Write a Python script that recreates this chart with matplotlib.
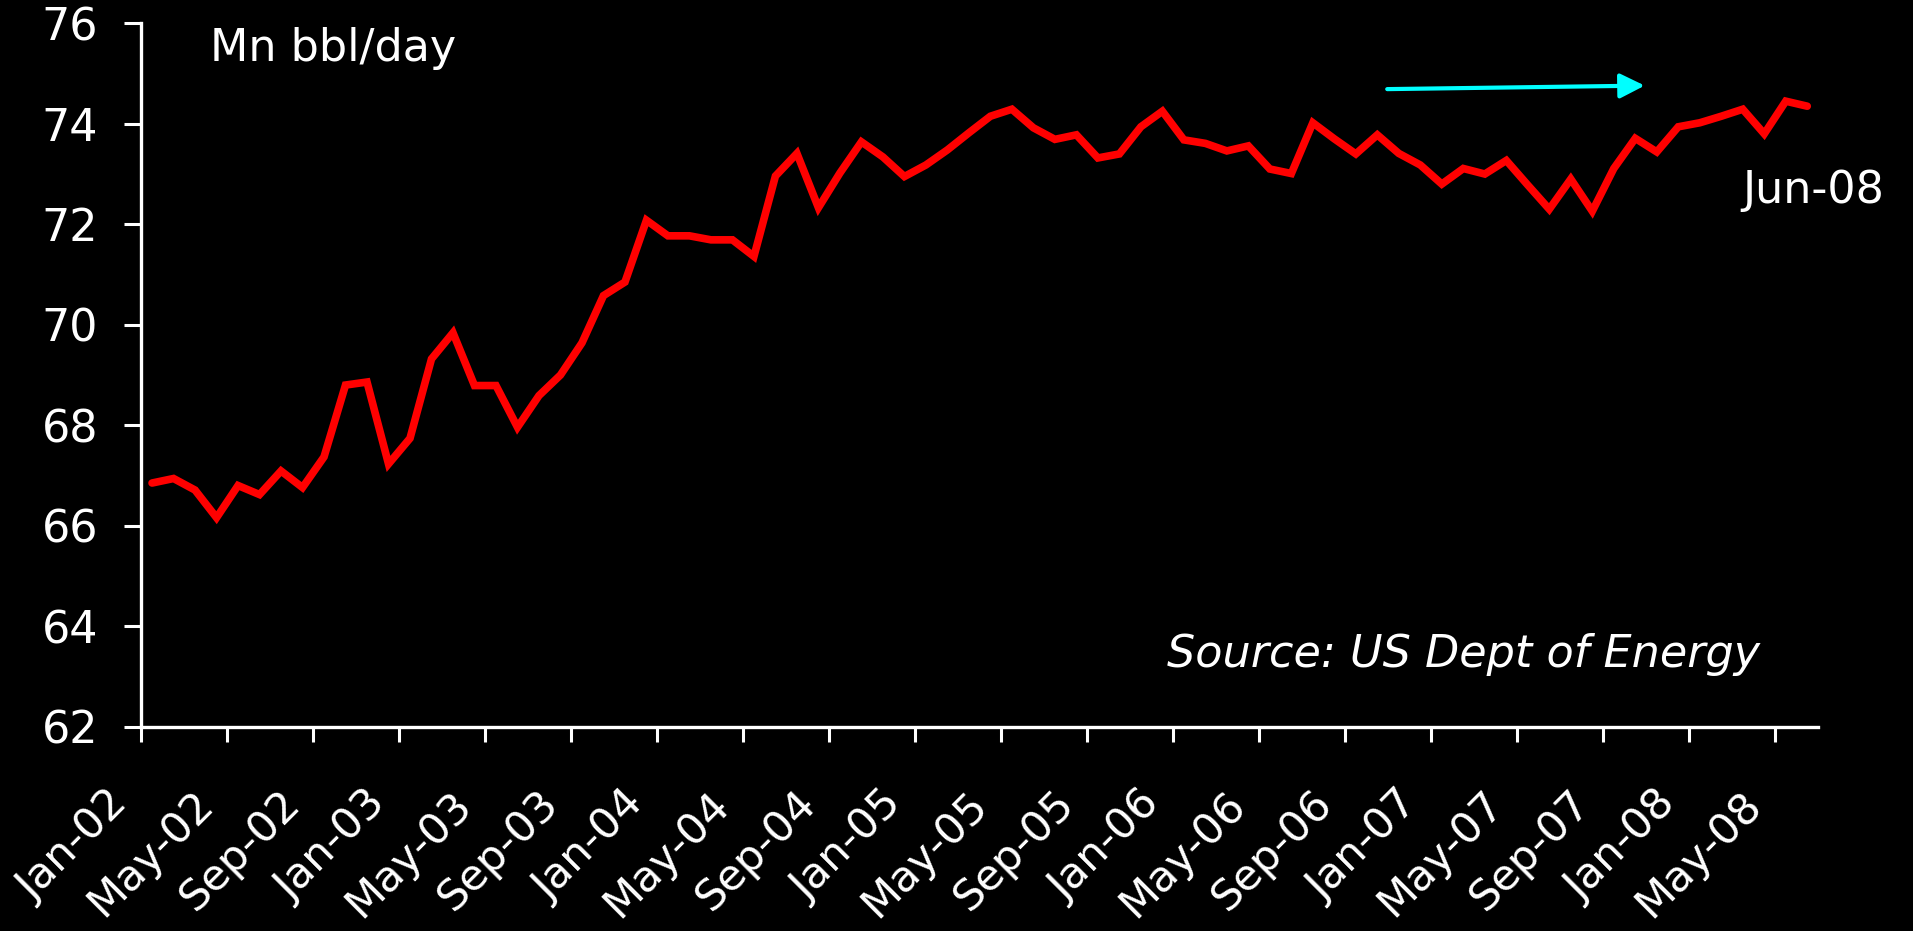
"""World oil production, monthly, Jan-02 to Jun-08."""

from __future__ import annotations

import matplotlib

matplotlib.use("Agg")
import matplotlib.pyplot as plt
from matplotlib.transforms import ScaledTranslation

months = [
    "Jan-02", "Feb-02", "Mar-02", "Apr-02", "May-02", "Jun-02", "Jul-02", "Aug-02", "Sep-02", "Oct-02", "Nov-02", "Dec-02",
    "Jan-03", "Feb-03", "Mar-03", "Apr-03", "May-03", "Jun-03", "Jul-03", "Aug-03", "Sep-03", "Oct-03", "Nov-03", "Dec-03",
    "Jan-04", "Feb-04", "Mar-04", "Apr-04", "May-04", "Jun-04", "Jul-04", "Aug-04", "Sep-04", "Oct-04", "Nov-04", "Dec-04",
    "Jan-05", "Feb-05", "Mar-05", "Apr-05", "May-05", "Jun-05", "Jul-05", "Aug-05", "Sep-05", "Oct-05", "Nov-05", "Dec-05",
    "Jan-06", "Feb-06", "Mar-06", "Apr-06", "May-06", "Jun-06", "Jul-06", "Aug-06", "Sep-06", "Oct-06", "Nov-06", "Dec-06",
    "Jan-07", "Feb-07", "Mar-07", "Apr-07", "May-07", "Jun-07", "Jul-07", "Aug-07", "Sep-07", "Oct-07", "Nov-07", "Dec-07",
    "Jan-08", "Feb-08", "Mar-08", "Apr-08", "May-08", "Jun-08",
]

# Mn bbl/day
production = [
    66.85, 66.94, 66.71, 66.16, 66.80, 66.62, 67.09, 66.76, 67.37, 68.80, 68.86, 67.23,
    67.74, 69.32, 69.84, 68.79, 68.79, 67.96, 68.59, 69.00, 69.64, 70.58, 70.85, 72.08,
    71.77, 71.77, 71.69, 71.69, 71.36, 72.96, 73.41, 72.33, 73.02, 73.64, 73.34, 72.95,
    73.18, 73.48, 73.82, 74.15, 74.29, 73.92, 73.69, 73.78, 73.32, 73.40, 73.94, 74.25,
    73.68, 73.61, 73.46, 73.56, 73.10, 73.01, 74.02, 73.70, 73.40, 73.78, 73.41, 73.18,
    72.80, 73.11, 73.00, 73.27, 72.78, 72.30, 72.90, 72.26, 73.11, 73.71, 73.44, 73.94,
    74.02, 74.15, 74.29, 73.80, 74.45, 74.35,
]

y_ticks = [62, 64, 66, 68, 70, 72, 74, 76]
label_every = 4

# trend arrow (month index, value)
arrow_start = (57.46, 74.69)
arrow_end = (69.44, 74.76)

W, H = 1913, 931


def main() -> None:
    plt.rcParams["font.family"] = ["DejaVu Sans"]
    fig = plt.figure(figsize=(W / 100, H / 100), dpi=100, facecolor="black")
    ax = fig.add_axes([141.3 / W, 1 - 726.7 / H, (1818 - 141.3) / W, (726.7 - 23.3) / H])
    ax.set_facecolor("black")

    x = list(range(len(production)))
    ax.plot(x, production, color="#FF0000", lw=5.5, solid_joinstyle="miter", solid_capstyle="round")

    ax.annotate(
        "",
        xy=arrow_end,
        xytext=arrow_start,
        arrowprops=dict(
            arrowstyle="-|>,head_length=0.6,head_width=0.3",
            mutation_scale=25,
            color="#00FFFF",
            lw=3,
            shrinkA=0,
            shrinkB=0,
            capstyle="round",
        ),
    )

    ax.set_xlim(-0.5, len(production) - 0.5)
    ax.set_ylim(y_ticks[0], y_ticks[-1])
    ax.set_yticks(y_ticks)
    ax.set_yticklabels([str(v) for v in y_ticks])

    tick_pos = [i - 0.5 for i in range(0, len(months), label_every)]
    ax.set_xticks(tick_pos)
    ax.set_xticklabels(months[::label_every], rotation=45, ha="right", va="center", rotation_mode="anchor")

    for side in ("top", "right"):
        ax.spines[side].set_visible(False)
    for side in ("left", "bottom"):
        ax.spines[side].set_color("white")
        ax.spines[side].set_linewidth(2.4)

    ax.tick_params(axis="y", colors="white", labelsize=32, length=12, width=2.2, pad=19)
    ax.tick_params(axis="x", colors="white", labelsize=31, length=11, width=2.2, pad=40)
    shift = ScaledTranslation(-0.2, 0, fig.dpi_scale_trans)
    for lbl in ax.get_xticklabels():
        lbl.set_transform(lbl.get_transform() + shift)

    fig.text(333 / W, 1 - 61 / H, "Mn bbl/day", color="white", fontsize=32, ha="center", va="baseline")
    fig.text(1813 / W, 1 - 203 / H, "Jun-08", color="white", fontsize=32, ha="center", va="baseline")
    fig.text(1464 / W, 1 - 667 / H, "Source: US Dept of Energy", color="white", fontsize=32,
             style="italic", ha="center", va="baseline")

    fig.savefig("out.png", dpi=100, facecolor="black")


if __name__ == "__main__":
    main()
